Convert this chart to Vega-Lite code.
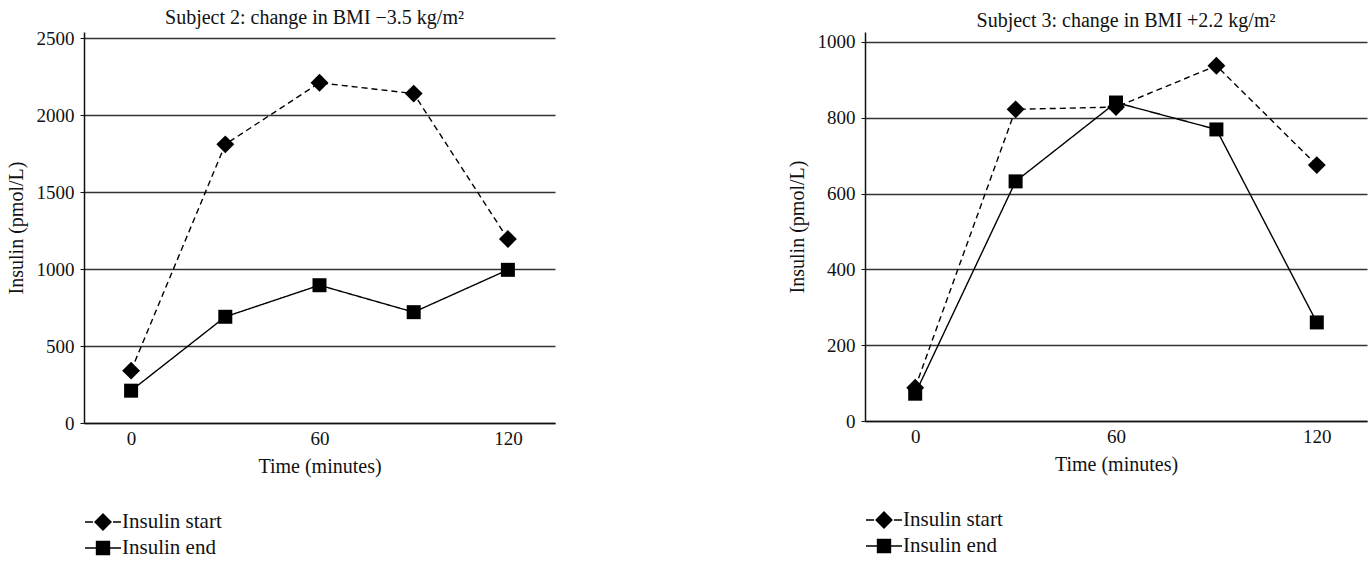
{
  "$schema": "https://vega.github.io/schema/vega-lite/v6.json",
  "background": "white",
  "padding": {"left": 6, "top": 8, "right": 2, "bottom": 2},
  "config": {
    "font": "Liberation Serif",
    "view": {"stroke": null},
    "concat": {"spacing": 232},
    "axis": {
      "labelFont": "Liberation Serif",
      "titleFont": "Liberation Serif",
      "labelFontSize": 19,
      "titleFontSize": 20,
      "titleFontWeight": "normal",
      "labelColor": "#111",
      "titleColor": "#111",
      "domainColor": "#111",
      "domainWidth": 1.5,
      "tickColor": "#111",
      "gridColor": "#333",
      "gridWidth": 1.3
    },
    "title": {"font": "Liberation Serif", "fontSize": 20, "fontWeight": "normal", "color": "#111", "anchor": "middle", "offset": 1},
    "legend": {"labelFont": "Liberation Serif", "labelFontSize": 21, "labelColor": "#111"}
  },
  "datasets": {
    "insulin": [
      {"subject": 2, "series": "Insulin start", "time": 0, "insulin": 340},
      {"subject": 2, "series": "Insulin start", "time": 30, "insulin": 1810},
      {"subject": 2, "series": "Insulin start", "time": 60, "insulin": 2210},
      {"subject": 2, "series": "Insulin start", "time": 90, "insulin": 2140},
      {"subject": 2, "series": "Insulin start", "time": 120, "insulin": 1195},
      {"subject": 2, "series": "Insulin end", "time": 0, "insulin": 210},
      {"subject": 2, "series": "Insulin end", "time": 30, "insulin": 690},
      {"subject": 2, "series": "Insulin end", "time": 60, "insulin": 895},
      {"subject": 2, "series": "Insulin end", "time": 90, "insulin": 720},
      {"subject": 2, "series": "Insulin end", "time": 120, "insulin": 995},
      {"subject": 3, "series": "Insulin start", "time": 0, "insulin": 88},
      {"subject": 3, "series": "Insulin start", "time": 30, "insulin": 822},
      {"subject": 3, "series": "Insulin start", "time": 60, "insulin": 828},
      {"subject": 3, "series": "Insulin start", "time": 90, "insulin": 937},
      {"subject": 3, "series": "Insulin start", "time": 120, "insulin": 675},
      {"subject": 3, "series": "Insulin end", "time": 0, "insulin": 72},
      {"subject": 3, "series": "Insulin end", "time": 30, "insulin": 632},
      {"subject": 3, "series": "Insulin end", "time": 60, "insulin": 840},
      {"subject": 3, "series": "Insulin end", "time": 90, "insulin": 769},
      {"subject": 3, "series": "Insulin end", "time": 120, "insulin": 260}
    ]
  },
  "resolve": {
    "scale": {"x": "independent", "y": "independent", "shape": "independent", "strokeDash": "independent", "size": "independent", "color": "independent"},
    "legend": {"shape": "independent", "strokeDash": "independent", "size": "independent", "color": "independent"}
  },
  "hconcat": [
    {
      "width": 471,
      "height": 391,
      "title": {"text": "Subject 2: change in BMI −3.5 kg/m²", "dx": -5},
      "data": {"name": "insulin"},
      "transform": [{"filter": "datum.subject === 2"}],
      "layer": [
        {
          "mark": {"type": "line", "strokeWidth": 1.4},
          "encoding": {
            "x": {"field": "time", "type": "quantitative", "scale": {"domain": [-15, 135], "nice": false}, "axis": {"values": [0, 60, 120], "title": "Time (minutes)", "grid": false, "ticks": false, "labelPadding": 6, "titlePadding": 8}},
            "y": {"field": "insulin", "type": "quantitative", "scale": {"domain": [0, 2540], "nice": false}, "axis": {"values": [0, 500, 1000, 1500, 2000, 2500], "format": "d", "title": "Insulin (pmol/L)", "grid": true, "tickSize": 4, "labelPadding": 6, "titlePadding": 10}},
            "color": {
              "field": "series", "type": "nominal",
              "scale": {"domain": ["Insulin start", "Insulin end"], "range": ["black", "black"]},
              "legend": {
                "title": null, "orient": "bottom", "direction": "vertical", "offset": 35,
                "symbolSize": 400, "labelOffset": 16, "rowPadding": 4,
                "encode": {"symbols": {"update": {
                  "shape": {"signal": "datum.value === 'Insulin start' ? 'M-1,0L-0.2,0M1.8,0L2.6,0M0.8,-0.8L1.6,0L0.8,0.8L0,0Z' : 'M-1,0L2.6,0M0.15,-0.65L1.45,-0.65L1.45,0.65L0.15,0.65Z'"},
                  "fill": {"value": "black"}, "fillOpacity": {"value": 1},
                  "stroke": {"value": "black"}, "strokeWidth": {"value": 1.4},
                  "strokeDash": {"value": []}, "opacity": {"value": 1}
                }}}
              }
            },
            "strokeDash": {"field": "series", "type": "nominal", "scale": {"domain": ["Insulin end", "Insulin start"], "range": [[1, 0], [6, 4]]}, "legend": null}
          }
        },
        {
          "mark": {"type": "point", "filled": true, "color": "black", "opacity": 1},
          "encoding": {
            "x": {"field": "time", "type": "quantitative"},
            "y": {"field": "insulin", "type": "quantitative"},
            "size": {"field": "series", "type": "nominal", "scale": {"domain": ["Insulin end", "Insulin start"], "range": [196, 320]}, "legend": null},
            "shape": {"field": "series", "type": "nominal", "scale": {"domain": ["Insulin end", "Insulin start"], "range": ["square", "diamond"]}, "legend": null}
          }
        }
      ]
    },
    {
      "width": 502,
      "height": 389,
      "title": {"text": "Subject 3: change in BMI +2.2 kg/m²", "dx": 10},
      "data": {"name": "insulin"},
      "transform": [{"filter": "datum.subject === 3"}],
      "layer": [
        {
          "mark": {"type": "line", "strokeWidth": 1.4},
          "encoding": {
            "x": {"field": "time", "type": "quantitative", "scale": {"domain": [-15, 135], "nice": false}, "axis": {"values": [0, 60, 120], "title": "Time (minutes)", "grid": false, "ticks": false, "labelPadding": 6, "titlePadding": 8}},
            "y": {"field": "insulin", "type": "quantitative", "scale": {"domain": [0, 1026], "nice": false}, "axis": {"values": [0, 200, 400, 600, 800, 1000], "format": "d", "title": "Insulin (pmol/L)", "grid": true, "tickSize": 4, "labelPadding": 6, "titlePadding": 10}},
            "color": {
              "field": "series", "type": "nominal",
              "scale": {"domain": ["Insulin start", "Insulin end"], "range": ["black", "black"]},
              "legend": {
                "title": null, "orient": "bottom", "direction": "vertical", "offset": 35,
                "symbolSize": 400, "labelOffset": 16, "rowPadding": 4,
                "encode": {"symbols": {"update": {
                  "shape": {"signal": "datum.value === 'Insulin start' ? 'M-1,0L-0.2,0M1.8,0L2.6,0M0.8,-0.8L1.6,0L0.8,0.8L0,0Z' : 'M-1,0L2.6,0M0.15,-0.65L1.45,-0.65L1.45,0.65L0.15,0.65Z'"},
                  "fill": {"value": "black"}, "fillOpacity": {"value": 1},
                  "stroke": {"value": "black"}, "strokeWidth": {"value": 1.4},
                  "strokeDash": {"value": []}, "opacity": {"value": 1}
                }}}
              }
            },
            "strokeDash": {"field": "series", "type": "nominal", "scale": {"domain": ["Insulin end", "Insulin start"], "range": [[1, 0], [6, 4]]}, "legend": null}
          }
        },
        {
          "mark": {"type": "point", "filled": true, "color": "black", "opacity": 1},
          "encoding": {
            "x": {"field": "time", "type": "quantitative"},
            "y": {"field": "insulin", "type": "quantitative"},
            "size": {"field": "series", "type": "nominal", "scale": {"domain": ["Insulin end", "Insulin start"], "range": [196, 320]}, "legend": null},
            "shape": {"field": "series", "type": "nominal", "scale": {"domain": ["Insulin end", "Insulin start"], "range": ["square", "diamond"]}, "legend": null}
          }
        }
      ]
    }
  ]
}
